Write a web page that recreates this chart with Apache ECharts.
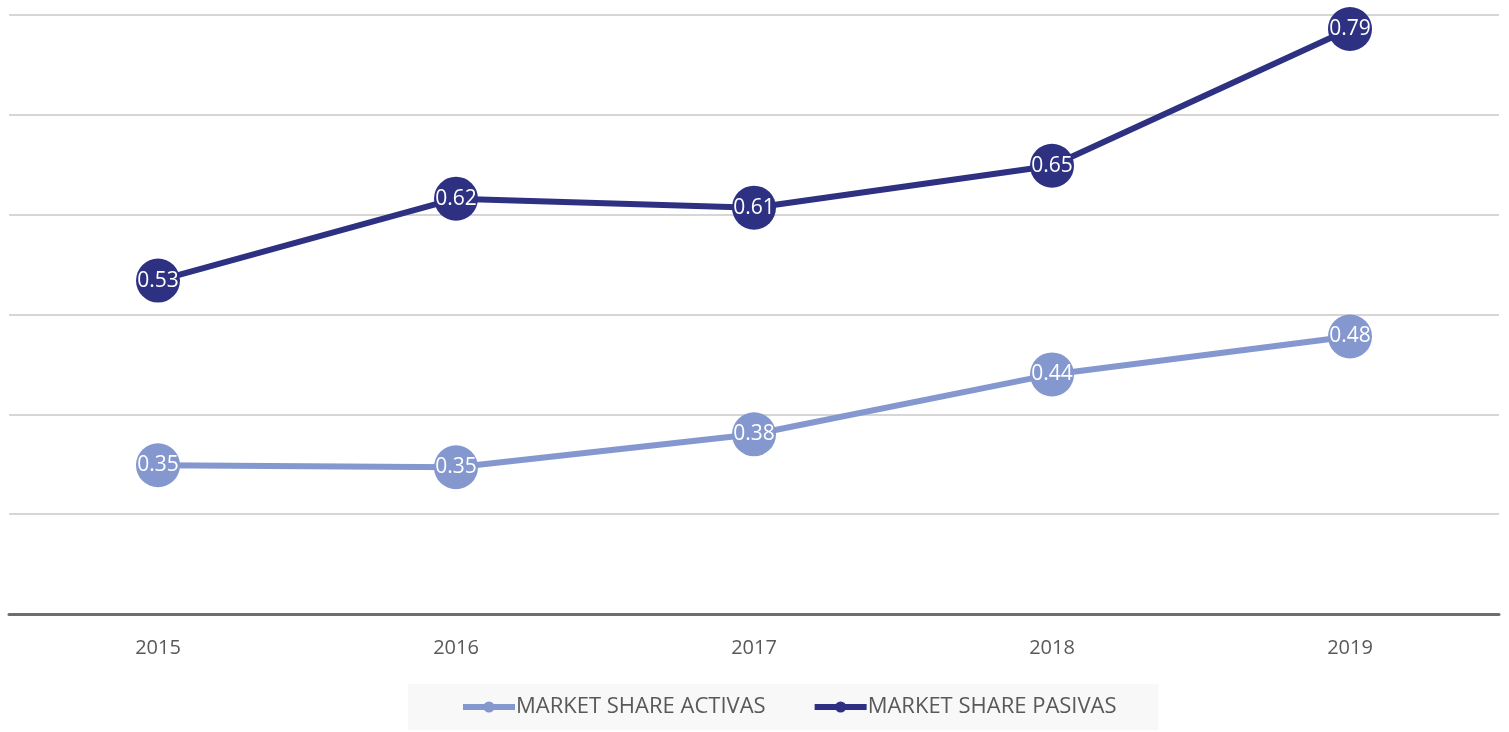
<!DOCTYPE html>
<html><head><meta charset="utf-8">
<script src="https://cdn.jsdelivr.net/npm/echarts@6/dist/echarts.min.js"></script>
<style>html,body{margin:0;padding:0;background:#fff}#c{width:1509px;height:732px}</style>
</head><body><div id="c"></div>
<script>
const categories = ['2015','2016','2017','2018','2019'];
const activas = [0.349, 0.347, 0.380, 0.440, 0.478];
const pasivas = [0.534, 0.616, 0.607, 0.649, 0.786];
const seriesNames = ['MARKET SHARE ACTIVAS','MARKET SHARE PASIVAS'];
const colors = ['#8497cf','#2e3182'];
const font = '"Open Sans", sans-serif';
const chart = echarts.init(document.getElementById('c'));
function mk(name, data, color){
  return {
    name, type:'line', data, symbol:'circle', symbolSize:44,
    lineStyle:{width:6,color}, itemStyle:{color},
    label:{show:true,position:'inside',color:'#fff',fontFamily:font,fontSize:21,
      formatter:p=>(Math.round(p.value*100)/100).toFixed(2)},
    emphasis:{disabled:true}, animation:false
  };
}
chart.setOption({
  animation:false,
  grid:{left:9,right:10,top:15,bottom:118,containLabel:false},
  legend:{bottom:2,left:408,itemWidth:52,itemHeight:14,itemGap:46,
    padding:[12,42,12,52],backgroundColor:'#f8f8f8',
    lineStyle:{width:6},
    textStyle:{color:'#595959',fontSize:22,fontFamily:font,padding:[0,0,0,-4]},
    data:seriesNames},
  xAxis:{type:'category',data:categories,boundaryGap:true,
    axisLine:{lineStyle:{color:'#6e6e6e',width:3}},axisTick:{show:false},
    axisLabel:{color:'#595959',fontSize:20,fontFamily:font,margin:24}},
  yAxis:{type:'value',min:0.2,max:0.8,interval:0.1,axisLabel:{show:false},
    axisLine:{show:false},axisTick:{show:false},
    splitLine:{lineStyle:{color:'#c8c8c8',width:1.5}}},
  series:[mk(seriesNames[0],activas,colors[0]),mk(seriesNames[1],pasivas,colors[1])]
});
</script></body></html>
